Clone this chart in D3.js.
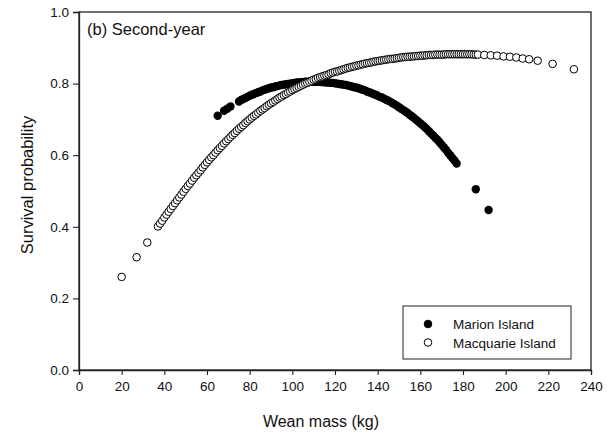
<!DOCTYPE html>
<html>
<head>
<meta charset="utf-8">
<script src="https://cdn.jsdelivr.net/npm/d3@7"></script>
<style>
  html, body { margin: 0; padding: 0; background: #fff; }
  svg { display: block; font-family: Arial, "Liberation Sans", Helvetica, sans-serif; }
</style>
</head>
<body>
<div id="chart"></div>
<script>
// ---- Data ----
const panelTitle = "(b) Second-year";
const xTitle = "Wean mass (kg)";
const yTitle = "Survival probability";
const xTicks = [0, 20, 40, 60, 80, 100, 120, 140, 160, 180, 200, 220, 240];
const yTicks = [0.0, 0.2, 0.4, 0.6, 0.8, 1.0];
const seriesNames = ["Marion Island", "Macquarie Island"];

// Marion Island (filled circles)
const marionMass = [65, 68, 69.5, 71,
  75, 76, 77, 78, 79, 80, 81, 82, 83, 84, 85, 86, 87, 88, 89, 90,
  91, 92, 93, 94, 95, 96, 97, 98, 99, 100, 101, 102, 103, 104, 105, 106, 107, 108, 109, 110,
  111, 112, 113, 114, 115, 116, 117, 118, 119, 120, 121, 122, 123, 124, 125, 126, 127, 128, 129, 130,
  131, 132, 133, 134, 135, 136, 137, 138, 139, 140, 141, 142, 143, 144, 145, 146, 147, 148, 149, 150,
  151, 152, 153, 154, 155, 156, 157, 158, 159, 160, 161, 162, 163, 164, 165, 166, 167, 168, 169, 170,
  171, 172, 173, 174, 175, 176, 177,
  186, 192];
const marionSurv = [0.710, 0.724, 0.730, 0.736,
  0.750, 0.754, 0.757, 0.760, 0.763, 0.766, 0.769, 0.771, 0.774, 0.776, 0.778, 0.781, 0.783, 0.785, 0.787, 0.789,
  0.790, 0.792, 0.793, 0.795, 0.796, 0.797, 0.798, 0.799, 0.800, 0.801, 0.802, 0.803, 0.803, 0.804, 0.804, 0.805, 0.805, 0.805, 0.805, 0.805,
  0.805, 0.805, 0.805, 0.804, 0.804, 0.803, 0.803, 0.802, 0.802, 0.801, 0.800, 0.799, 0.798, 0.797, 0.796, 0.795, 0.793, 0.792, 0.790, 0.789,
  0.787, 0.785, 0.783, 0.781, 0.778, 0.776, 0.774, 0.771, 0.769, 0.766, 0.763, 0.761, 0.758, 0.755, 0.752, 0.749, 0.745, 0.742, 0.738, 0.734,
  0.730, 0.726, 0.722, 0.718, 0.713, 0.709, 0.704, 0.699, 0.694, 0.689, 0.684, 0.679, 0.673, 0.667, 0.661, 0.655, 0.649, 0.643, 0.636, 0.629,
  0.622, 0.615, 0.607, 0.600, 0.592, 0.585, 0.577,
  0.505, 0.447];

// Macquarie Island (open circles)
const macquarieMass = [20, 27, 32,
  37, 38, 39, 40, 41, 42, 43, 44, 45, 46, 47, 48, 49, 50,
  51, 52, 53, 54, 55, 56, 57, 58, 59, 60, 61, 62, 63, 64, 65, 66, 67, 68, 69, 70,
  71, 72, 73, 74, 75, 76, 77, 78, 79, 80, 81, 82, 83, 84, 85, 86, 87, 88, 89, 90,
  91, 92, 93, 94, 95, 96, 97, 98, 99, 100, 101, 102, 103, 104, 105, 106, 107, 108, 109, 110,
  111, 112, 113, 114, 115, 116, 117, 118, 119, 120, 121, 122, 123, 124, 125, 126, 127, 128, 129, 130,
  131, 132, 133, 134, 135, 136, 137, 138, 139, 140, 141, 142, 143, 144, 145, 146, 147, 148, 149, 150,
  151, 152, 153, 154, 155, 156, 157, 158, 159, 160, 161, 162, 163, 164, 165, 166, 167, 168, 169, 170,
  171, 172, 173, 174, 175, 176, 177, 178, 179, 180, 181, 182, 183, 184, 185, 186, 187,
  190, 193, 196, 199, 202, 205, 208, 211, 215, 222, 232];
const macquarieSurv = [0.260, 0.315, 0.356,
  0.401, 0.409, 0.417, 0.426, 0.434, 0.442, 0.450, 0.458, 0.466, 0.474, 0.482, 0.490, 0.498, 0.506,
  0.514, 0.521, 0.529, 0.537, 0.544, 0.551, 0.558, 0.566, 0.573, 0.580, 0.587, 0.594, 0.600, 0.607, 0.614, 0.620, 0.626, 0.633, 0.639, 0.645,
  0.651, 0.657, 0.662, 0.668, 0.674, 0.679, 0.684, 0.690, 0.695, 0.700, 0.705, 0.710, 0.714, 0.719, 0.724, 0.728, 0.732, 0.737, 0.741, 0.745,
  0.749, 0.753, 0.757, 0.761, 0.764, 0.768, 0.771, 0.775, 0.778, 0.782, 0.785, 0.788, 0.791, 0.794, 0.797, 0.800, 0.802, 0.805, 0.808, 0.811,
  0.813, 0.816, 0.818, 0.820, 0.822, 0.824, 0.826, 0.829, 0.831, 0.833, 0.834, 0.836, 0.838, 0.840, 0.842, 0.844, 0.845, 0.847, 0.848, 0.850,
  0.851, 0.853, 0.854, 0.856, 0.857, 0.858, 0.859, 0.861, 0.862, 0.863, 0.864, 0.865, 0.866, 0.867, 0.868, 0.869, 0.869, 0.870, 0.871, 0.872,
  0.873, 0.874, 0.874, 0.875, 0.875, 0.876, 0.876, 0.877, 0.877, 0.878, 0.878, 0.879, 0.879, 0.880, 0.880, 0.880, 0.881, 0.881, 0.881, 0.881,
  0.881, 0.882, 0.882, 0.882, 0.882, 0.882, 0.882, 0.882, 0.882, 0.882, 0.882, 0.882, 0.882, 0.882, 0.881, 0.881, 0.881,
  0.880, 0.879, 0.878, 0.876, 0.875, 0.873, 0.870, 0.868, 0.864, 0.855, 0.840];

// ---- Layout ----
const W = 607, H = 436;
const margin = { left: 79, right: 16, top: 12, bottom: 66 };
const innerW = W - margin.left - margin.right; // 512
const innerH = H - margin.top - margin.bottom; // 358

const svg = d3.select("#chart").append("svg")
  .attr("width", W).attr("height", H);

const x = d3.scaleLinear().domain([0, 240]).range([margin.left, margin.left + innerW]);
const y = d3.scaleLinear().domain([0, 1]).range([margin.top + innerH, margin.top]);

const axisColor = "#222";

// Frame
svg.append("rect")
  .attr("x", x(0)).attr("y", y(1))
  .attr("width", x(240) - x(0)).attr("height", y(0) - y(1))
  .attr("fill", "none").attr("stroke", axisColor).attr("stroke-width", 1.3);

// Axes
const xAxis = svg.append("g")
  .attr("transform", `translate(0,${y(0)})`)
  .call(d3.axisBottom(x).tickValues(xTicks).tickSize(5).tickPadding(6)
    .tickFormat(d3.format("d")));
const yAxis = svg.append("g")
  .attr("transform", `translate(${x(0)},0)`)
  .call(d3.axisLeft(y).tickValues(yTicks).tickSize(6).tickPadding(4)
    .tickFormat(d3.format(".1f")));
[xAxis, yAxis].forEach(g => {
  g.select(".domain").attr("stroke", axisColor).attr("stroke-width", 1.3);
  g.selectAll(".tick line").attr("stroke", axisColor).attr("stroke-width", 1.1);
  g.selectAll(".tick text")
    .attr("fill", "#111")
    .style("font-size", "13.5px")
    .style("font-family", "Arial, 'Liberation Sans', sans-serif");
});

// Axis titles
svg.append("text")
  .attr("x", 321).attr("y", 427)
  .attr("text-anchor", "middle")
  .style("font-size", "16px").attr("fill", "#111")
  .text(xTitle);
svg.append("text")
  .attr("transform", `translate(33,185) rotate(-90)`)
  .attr("text-anchor", "middle")
  .style("font-size", "16.5px").attr("fill", "#111")
  .text(yTitle);

// Panel title
svg.append("text")
  .attr("x", 87).attr("y", 35)
  .style("font-size", "16.5px").attr("fill", "#111")
  .text(panelTitle);

// Marion Island (filled)
svg.append("g").selectAll("circle")
  .data(marionMass.map((m, i) => [m, marionSurv[i]]))
  .join("circle")
  .attr("cx", d => x(d[0])).attr("cy", d => y(d[1]))
  .attr("r", 4.2)
  .attr("fill", "#000");

// Macquarie Island (open)
svg.append("g").selectAll("circle")
  .data(macquarieMass.map((m, i) => [m, macquarieSurv[i]]))
  .join("circle")
  .attr("cx", d => x(d[0])).attr("cy", d => y(d[1]))
  .attr("r", 3.8)
  .attr("fill", "#fff")
  .attr("stroke", "#000")
  .attr("stroke-width", 1);

// Legend
const lg = svg.append("g");
lg.append("rect")
  .attr("x", 403).attr("y", 306).attr("width", 168).attr("height", 53)
  .attr("fill", "#fff").attr("stroke", axisColor).attr("stroke-width", 1);
seriesNames.forEach((name, i) => {
  const cy = 324 + i * 18.5;
  lg.append("circle")
    .attr("cx", 428).attr("cy", cy).attr("r", 3.8)
    .attr("fill", i === 0 ? "#000" : "#fff")
    .attr("stroke", "#000").attr("stroke-width", 1);
  lg.append("text")
    .attr("x", 453).attr("y", cy + 5)
    .style("font-size", "13.5px").attr("fill", "#111")
    .text(name);
});
</script>
</body>
</html>
